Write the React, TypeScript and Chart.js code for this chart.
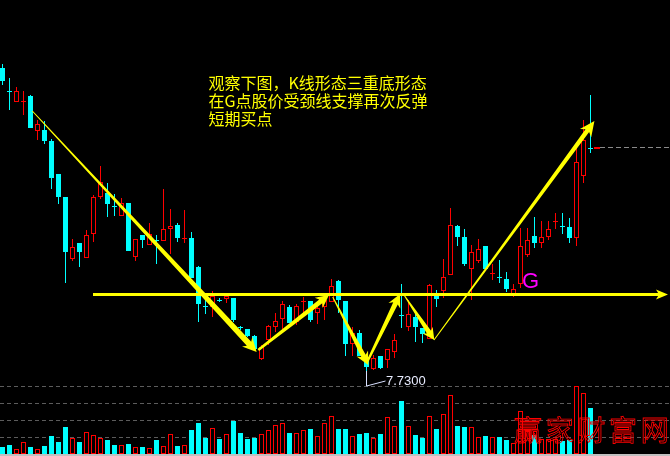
import React, { useEffect, useRef } from 'react';
import { Chart, registerables } from 'chart.js';

Chart.register(...registerables);

// ---- data (prices in CNY, volume in 万手) ----
const opens = [
  10.76, 10.53, 10.42, 10.42, 10.48, 10.13, 10.14, 10.03, 9.70, 9.47,
  8.85, 9.01, 8.86, 9.10, 9.47, 9.51, 9.38, 9.28, 9.41, 8.87,
  9.09, 8.99, 9.04, 9.03, 9.15, 9.19, 9.05, 9.06, 8.77, 8.38,
  8.37, 8.44, 8.45, 8.46, 8.17, 8.15, 8.08, 7.85, 8.04, 8.17,
  8.25, 8.37, 8.22, 8.42, 8.43, 8.31, 8.37, 8.42, 8.63, 8.43,
  8.00, 8.11, 7.87, 7.75, 7.88, 7.84, 7.92, 8.29, 8.17, 8.27,
  8.16, 8.05, 8.48, 8.53, 8.69, 9.18, 9.07, 8.75, 8.83, 8.98,
  8.70, 8.67, 8.65, 8.50, 8.60, 8.89, 9.08, 9.01, 9.07, 9.22,
  9.18, 9.17, 9.06, 9.68, 9.96,
];
const highs = [
  10.80, 10.66, 10.57, 10.53, 10.49, 10.24, 10.23, 10.05, 9.70, 9.47,
  9.05, 9.01, 9.14, 9.49, 9.78, 9.61, 9.50, 9.46, 9.41, 9.05,
  9.09, 9.21, 9.09, 9.55, 9.35, 9.21, 9.34, 9.12, 8.78, 8.46,
  8.53, 8.46, 8.50, 8.46, 8.18, 8.15, 8.09, 7.99, 8.19, 8.31,
  8.43, 8.39, 8.40, 8.47, 8.43, 8.39, 8.49, 8.65, 8.64, 8.43,
  8.17, 8.14, 7.87, 7.89, 7.88, 7.95, 8.10, 8.60, 8.44, 8.31,
  8.16, 8.60, 8.54, 8.85, 9.36, 9.19, 9.15, 8.99, 9.05, 8.98,
  8.80, 8.84, 8.72, 8.60, 9.16, 9.16, 9.27, 9.23, 9.23, 9.31,
  9.31, 9.26, 9.98, 10.24, 10.49,
];
const lows = [
  10.59, 10.34, 10.42, 10.29, 10.16, 10.04, 10.00, 9.55, 9.40, 8.61,
  8.83, 8.77, 8.86, 9.02, 9.45, 9.27, 9.28, 9.28, 8.93, 8.83,
  8.96, 8.99, 8.80, 9.03, 8.90, 9.02, 9.01, 8.66, 8.22, 8.30,
  8.27, 8.42, 8.41, 8.22, 8.14, 8.07, 7.93, 7.84, 7.99, 8.12,
  8.14, 8.21, 8.19, 8.31, 8.22, 8.20, 8.24, 8.42, 8.31, 7.88,
  7.88, 7.88, 7.73, 7.74, 7.75, 7.76, 7.86, 8.16, 8.13, 8.02,
  8.01, 8.05, 8.37, 8.46, 8.69, 8.98, 8.78, 8.44, 8.81, 8.75,
  8.64, 8.61, 8.52, 8.47, 8.56, 8.87, 8.96, 8.96, 9.04, 9.15,
  9.10, 9.01, 8.98, 9.61, 9.91,
];
const closes = [
  10.63, 10.52, 10.53, 10.43, 10.16, 10.20, 10.03, 9.66, 9.47, 8.92,
  8.97, 8.92, 9.09, 9.47, 9.62, 9.40, 9.37, 9.41, 8.93, 9.05,
  9.04, 9.10, 9.03, 9.15, 9.18, 9.06, 9.06, 8.66, 8.40, 8.37,
  8.48, 8.43, 8.48, 8.24, 8.16, 8.08, 7.95, 7.97, 8.18, 8.23,
  8.40, 8.21, 8.38, 8.43, 8.24, 8.36, 8.44, 8.58, 8.44, 8.00,
  8.11, 7.88, 7.77, 7.86, 7.76, 7.95, 8.04, 8.28, 8.30, 8.17,
  8.10, 8.59, 8.45, 8.67, 9.19, 9.07, 8.80, 8.92, 8.95, 8.75,
  8.71, 8.66, 8.55, 8.55, 8.98, 9.04, 9.01, 9.07, 9.15, 9.23,
  9.17, 9.06, 9.82, 10.04, 9.95,
];
const volumes = [
  0.7, 0.9, 0.5, 1.2, 0.7, 0.5, 0.8, 1.8, 1.2, 2.7,
  1.6, 1.2, 2.2, 1.9, 1.6, 1.4, 0.9, 0.9, 1.0, 0.7,
  0.7, 0.6, 1.4, 0.8, 2.0, 0.8, 0.9, 2.4, 3.1, 1.6,
  2.6, 1.5, 2.0, 3.3, 2.1, 1.5, 1.6, 2.0, 2.4, 2.9,
  3.1, 2.1, 2.1, 2.4, 2.5, 1.8, 3.1, 3.8, 2.5, 2.5,
  1.8, 2.0, 2.1, 1.6, 2.0, 3.7, 2.8, 5.3, 2.8, 1.9,
  1.6, 3.8, 2.5, 4.0, 5.9, 2.8, 2.7, 2.7, 1.7, 1.8,
  1.7, 1.7, 1.4, 1.1, 4.3, 2.4, 1.9, 1.5, 1.5, 1.5,
  1.3, 1.4, 6.8, 6.1, 4.6,
];
const volumeGridLevels = [1.7, 3.4, 5.1, 6.8];
const markerPrice = 9.97;

// neckline (颈线) and the pattern arrows, in (candle index, price)
const neckPrice = 8.5;
const neckFromIdx = 12.93;
const neckToIdx = 95.07;
const arrowFromIdx = [4.26, 36.54, 47.17, 52.03, 57.36, 61.64];
const arrowFromPrice = [10.33, 7.94, 8.47, 7.81, 8.49, 8.04];
const arrowToIdx = [36.31, 46.64, 52.26, 56.79, 61.69, 84.56];
const arrowToPrice = [7.92, 8.49, 7.79, 8.5, 8.04, 10.23];

const noteLines = ['观察下图，K线形态三重底形态', '在G点股价受颈线支撑再次反弹', '短期买点'];
const noteIdx = 29.43;
const notePrice = 10.615;
const gLabel = 'G';
const gIdx = 74.2;
const gPrice = 8.56;
const watermark = ['赢', '家', '财', '富', '网'];

// ---- styles ----
const RED = '#ff0000';
const CYAN = '#00ffff';
const YELLOW = '#ffff00';
const arrowStyles = [
  { w0: 1, w1: 6, head: 14, half: 7 },
  { w0: 2.5, w1: 5, head: 13, half: 6.5 },
  { w0: 1, w1: 5, head: 13, half: 6.5 },
  { w0: 2, w1: 5, head: 13, half: 6.5 },
  { w0: 1, w1: 5, head: 12, half: 6 },
  { w0: 1, w1: 4.5, head: 15, half: 7 },
];

function drawArrow(ctx: CanvasRenderingContext2D, x1: number, y1: number, x2: number, y2: number, s: any) {
  const dx = x2 - x1, dy = y2 - y1;
  const len = Math.hypot(dx, dy);
  const ux = dx / len, uy = dy / len;
  const nx = -uy, ny = ux;
  const bx = x2 - ux * s.head, by = y2 - uy * s.head;
  const nbx = x2 - ux * s.head * 0.8, nby = y2 - uy * s.head * 0.8;
  ctx.beginPath();
  ctx.moveTo(x1 + nx * s.w0 / 2, y1 + ny * s.w0 / 2);
  ctx.lineTo(nbx + nx * s.w1 / 2, nby + ny * s.w1 / 2);
  ctx.lineTo(bx + nx * s.half, by + ny * s.half);
  ctx.lineTo(x2, y2);
  ctx.lineTo(bx - nx * s.half, by - ny * s.half);
  ctx.lineTo(nbx - nx * s.w1 / 2, nby - ny * s.w1 / 2);
  ctx.lineTo(x1 - nx * s.w0 / 2, y1 - ny * s.w0 / 2);
  ctx.closePath();
  ctx.fill();
}

const annotationPlugin = {
  id: 'klineAnnotations',
  beforeDatasetsDraw(chart: any) {
    const { ctx, chartArea, scales } = chart;
    const yv = scales.yv;
    ctx.save();
    ctx.strokeStyle = '#5c5c5c';
    ctx.lineWidth = 1;
    ctx.setLineDash([4, 3]);
    for (const g of volumeGridLevels) {
      const y = Math.round(yv.getPixelForValue(g)) + 0.5;
      ctx.beginPath();
      ctx.moveTo(chartArea.left, y);
      ctx.lineTo(chartArea.right, y);
      ctx.stroke();
    }
    ctx.setLineDash([]);
    const y0 = yv.getPixelForValue(0);
    ctx.fillStyle = '#c0c0c0';
    ctx.fillRect(chartArea.left, y0, chartArea.right - chartArea.left, chartArea.bottom - y0);
    ctx.restore();
  },
  afterDatasetsDraw(chart: any) {
    const { ctx, chartArea, scales } = chart;
    const xs = scales.x, ys = scales.y;
    const px = (i: number) => xs.getPixelForValue(i);
    const py = (p: number) => ys.getPixelForValue(p);
    ctx.save();

    // neckline with arrow head
    const ny = py(neckPrice) + 0.5;
    const nx1 = px(neckFromIdx), nx2 = Math.min(px(neckToIdx), chartArea.right - 2);
    ctx.strokeStyle = YELLOW;
    ctx.fillStyle = YELLOW;
    ctx.lineWidth = 3;
    ctx.beginPath();
    ctx.moveTo(nx1, ny);
    ctx.lineTo(nx2 - 8, ny);
    ctx.stroke();
    ctx.beginPath();
    ctx.moveTo(nx2, ny);
    ctx.lineTo(nx2 - 12, ny - 5);
    ctx.lineTo(nx2 - 9, ny);
    ctx.lineTo(nx2 - 12, ny + 5);
    ctx.closePath();
    ctx.fill();

    // pattern arrows
    for (let k = 0; k < arrowFromIdx.length; k++) {
      drawArrow(ctx, px(arrowFromIdx[k]), py(arrowFromPrice[k]), px(arrowToIdx[k]), py(arrowToPrice[k]), arrowStyles[k]);
    }

    // last price marker
    const last = closes.length - 1;
    const my = py(markerPrice);
    ctx.fillStyle = RED;
    ctx.fillRect(px(last) + 3.5, my, 6, 2);
    ctx.strokeStyle = '#8a8a8a';
    ctx.lineWidth = 1;
    ctx.setLineDash([5, 3]);
    ctx.beginPath();
    ctx.moveTo(px(last) + 9.5, my + 0.5);
    ctx.lineTo(chartArea.right, my + 0.5);
    ctx.stroke();
    ctx.setLineDash([]);

    // lowest low label
    let lo = 0;
    for (let i = 1; i < lows.length; i++) if (lows[i] < lows[lo]) lo = i;
    const lx = Math.floor(px(lo)) + 0.5;
    const ly = py(lows[lo]);
    ctx.strokeStyle = '#d8e0ff';
    ctx.beginPath();
    ctx.moveTo(lx, ly);
    ctx.lineTo(lx, ly + 15);
    ctx.lineTo(lx + 19, ly + 10);
    ctx.stroke();
    ctx.fillStyle = '#e8ecff';
    ctx.font = '13px "Liberation Sans", Arial, sans-serif';
    ctx.textBaseline = 'alphabetic';
    ctx.textAlign = 'left';
    ctx.fillText(lows[lo].toFixed(4), lx + 19.5, ly + 13.5);

    // notes
    ctx.fillStyle = YELLOW;
    ctx.font = '16px "Noto Sans CJK SC", sans-serif';
    ctx.textBaseline = 'middle';
    const tx = px(noteIdx), ty = py(notePrice);
    noteLines.forEach((t, k) => ctx.fillText(t, tx, ty + k * 18.4));

    // G label
    ctx.fillStyle = '#ff00ff';
    ctx.font = '22px "Liberation Sans", Arial, sans-serif';
    ctx.textBaseline = 'alphabetic';
    ctx.fillText(gLabel, px(gIdx), py(gPrice));

    // watermark (hollow red characters)
    ctx.strokeStyle = RED;
    ctx.lineWidth = 0.9;
    ctx.font = '28px "Noto Sans CJK SC", sans-serif';
    ctx.textBaseline = 'middle';
    watermark.forEach((c, k) => ctx.strokeText(c, chartArea.right - 156 + k * 31.7, chartArea.bottom - 25.5));

    ctx.restore();
  },
};

export default function App() {
  const ref = useRef<HTMLCanvasElement>(null);
  useEffect(() => {
    document.body.style.margin = '0';
    document.body.style.background = '#000';
    const idx = opens.map((_, i) => i);
    const up = (i: number) => closes[i] > opens[i];
    const col = (i: number) => (up(i) ? RED : CYAN);
    const fill = (i: number) => (up(i) ? '#000000' : CYAN);

    const chart = new Chart(ref.current as HTMLCanvasElement, {
      type: 'bar',
      data: {
        datasets: [
          {
            label: 'wick',
            data: idx.map((i) => ({ x: i, y: [lows[i], highs[i]] })) as any,
            backgroundColor: idx.map(col),
            borderWidth: 0,
            barThickness: 1,
            grouped: false,
            inflateAmount: 0,
            order: 3,
            yAxisID: 'y',
          } as any,
          {
            label: 'body',
            data: idx.map((i) => ({ x: i, y: [opens[i], closes[i]] })) as any,
            backgroundColor: idx.map(fill),
            borderColor: idx.map(col),
            borderWidth: 1,
            borderSkipped: false,
            barThickness: 5,
            grouped: false,
            inflateAmount: 0,
            order: 2,
            yAxisID: 'y',
          } as any,
          {
            label: 'volume',
            data: idx.map((i) => ({ x: i, y: volumes[i] })) as any,
            backgroundColor: idx.map(fill),
            borderColor: idx.map(col),
            borderWidth: 1,
            borderSkipped: false,
            barThickness: 5,
            grouped: false,
            inflateAmount: 0,
            order: 1,
            yAxisID: 'yv',
          } as any,
        ],
      },
      options: {
        animation: false,
        responsive: false,
        maintainAspectRatio: false,
        events: [],
        layout: { padding: 0 },
        plugins: { legend: { display: false }, tooltip: { enabled: false } },
        scales: {
          x: { type: 'linear', display: false, offset: false, bounds: 'data', min: -0.357142857, max: 95.357142857 },
          y: { type: 'linear', display: false, bounds: 'data', min: 6.88, max: 11.44 },
          yv: { type: 'linear', display: false, bounds: 'data', min: -0.2, max: 45.4 },
        },
      } as any,
      plugins: [annotationPlugin],
    });
    return () => chart.destroy();
  }, []);

  return (
    <div style={{ position: 'absolute', left: 0, top: 0, width: 670, height: 456, background: '#000', overflow: 'hidden' }}>
      <canvas ref={ref} width={670} height={456} style={{ display: 'block', width: 670, height: 456 }} />
    </div>
  );
}
